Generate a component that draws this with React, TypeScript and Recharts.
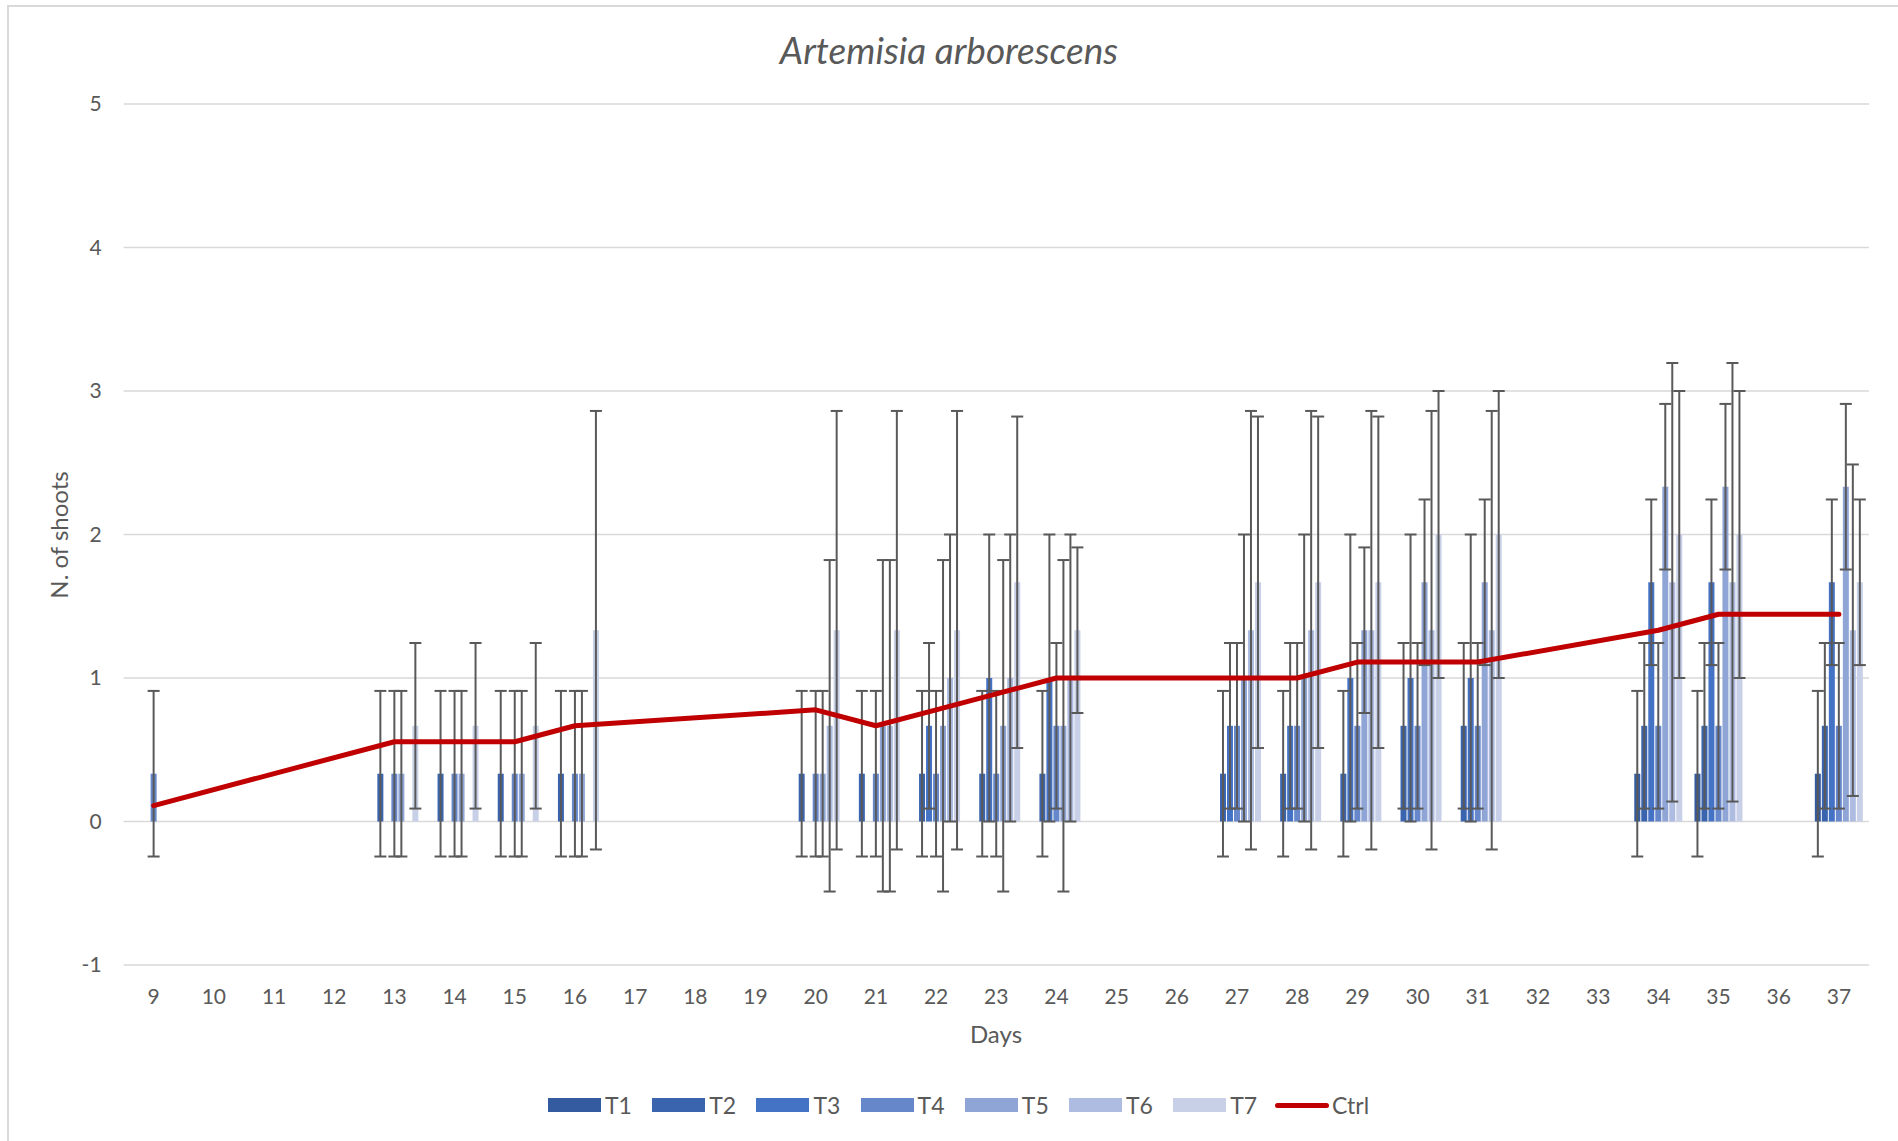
import React from 'react';
import { ComposedChart, Bar, Line, XAxis, YAxis, CartesianGrid, ErrorBar } from 'recharts';

const N = null;

const days = [9, 10, 11, 12, 13, 14, 15, 16, 17, 18, 19, 20, 21, 22, 23, 24, 25, 26, 27, 28, 29, 30, 31, 32, 33, 34, 35, 36, 37];

const yTicks = [-1, 0, 1, 2, 3, 4, 5];

const seriesNames = ['T1', 'T2', 'T3', 'T4', 'T5', 'T6', 'T7'];
const seriesColors = ['#345B9F', '#3A64AE', '#4472C4', '#6787CB', '#8FA5D5', '#AEBCE1', '#C8D0E8'];

// means (days 9..37)
const t1 = [0, N, N, N, 0, 0, 0, 0, N, N, N, 0, 0, 0, 0, 0, N, N, 0, 0, 0, 0, 0, N, N, 0.333, 0.333, N, 0.333];
const t2 = [0, N, N, N, 0.333, 0.333, 0.333, 0.333, N, N, N, 0.333, 0.333, 0.333, 0.333, 0.333, N, N, 0.333, 0.333, 0.333, 0.667, 0.667, N, N, 0.667, 0.667, N, 0.667];
const t3 = [0, N, N, N, 0, 0, 0, 0, N, N, N, 0, 0, 0.667, 1, 1, N, N, 0.667, 0.667, 1, 1, 1, N, N, 1.667, 1.667, N, 1.667];
const t4 = [0.333, N, N, N, 0.333, 0.333, 0.333, 0.333, N, N, N, 0.333, 0.333, 0.333, 0.333, 0.667, N, N, 0.667, 0.667, 0.667, 0.667, 0.667, N, N, 0.667, 0.667, N, 0.667];
const t5 = [0, N, N, N, 0.333, 0.333, 0.333, 0.333, N, N, N, 0.333, 0.667, 0.667, 0.667, 0.667, N, N, 1, 1, 1.333, 1.667, 1.667, N, N, 2.333, 2.333, N, 2.333];
const t6 = [0, N, N, N, 0, 0, 0, 0, N, N, N, 0.667, 0.667, 1, 1, 1, N, N, 1.333, 1.333, 1.333, 1.333, 1.333, N, N, 1.667, 1.667, N, 1.333];
const t7 = [0, N, N, N, 0.667, 0.667, 0.667, 1.333, N, N, N, 1.333, 1.333, 1.333, 1.667, 1.333, N, N, 1.667, 1.667, 1.667, 2, 2, N, N, 2, 2, N, 1.667];

// standard deviations (error bars)
const t1sd = [0, N, N, N, 0, 0, 0, 0, N, N, N, 0, 0, 0, 0, 0, N, N, 0, 0, 0, 0, 0, N, N, 0.577, 0.577, N, 0.577];
const t2sd = [0, N, N, N, 0.577, 0.577, 0.577, 0.577, N, N, N, 0.577, 0.577, 0.577, 0.577, 0.577, N, N, 0.577, 0.577, 0.577, 0.577, 0.577, N, N, 0.577, 0.577, N, 0.577];
const t3sd = [0, N, N, N, 0, 0, 0, 0, N, N, N, 0, 0, 0.577, 1, 1, N, N, 0.577, 0.577, 1, 1, 1, N, N, 0.577, 0.577, N, 0.577];
const t4sd = [0.577, N, N, N, 0.577, 0.577, 0.577, 0.577, N, N, N, 0.577, 0.577, 0.577, 0.577, 0.577, N, N, 0.577, 0.577, 0.577, 0.577, 0.577, N, N, 0.577, 0.577, N, 0.577];
const t5sd = [0, N, N, N, 0.577, 0.577, 0.577, 0.577, N, N, N, 0.577, 1.155, 1.155, 1.155, 1.155, N, N, 1, 1, 0.577, 0.577, 0.577, N, N, 0.577, 0.577, N, 0.577];
const t6sd = [0, N, N, N, 0, 0, 0, 0, N, N, N, 1.155, 1.155, 1, 1, 1, N, N, 1.528, 1.528, 1.528, 1.528, 1.528, N, N, 1.528, 1.528, N, 1.155];
const t7sd = [0, N, N, N, 0.577, 0.577, 0.577, 1.528, N, N, N, 1.528, 1.528, 1.528, 1.155, 0.577, N, N, 1.155, 1.155, 1.155, 1, 1, N, N, 1, 1, N, 0.577];

const ctrl = [0.111, N, N, N, 0.556, 0.556, 0.556, 0.667, N, N, N, 0.778, 0.667, 0.778, 0.889, 1, N, N, 1, 1, 1.111, 1.111, 1.111, N, N, 1.333, 1.444, N, 1.444];

const seriesValues = [t1, t2, t3, t4, t5, t6, t7];
const seriesSd = [t1sd, t2sd, t3sd, t4sd, t5sd, t6sd, t7sd];

const data = days.map((d, i) => {
  const row: Record<string, any> = { day: String(d), Ctrl: ctrl[i] };
  seriesNames.forEach((name, k) => {
    row[name] = seriesValues[k][i];
    const sd = seriesSd[k][i];
    row[name + 'e'] = sd == null ? null : [sd, sd];
  });
  return row;
});

const FONT = 'Lato, "Open Sans", sans-serif';
const TEXT = '#595959';

const Legend2 = () => (
  <div style={{ position: 'absolute', left: 0, top: 1090, width: 1898, height: 30, fontFamily: FONT, fontSize: 23, color: TEXT }}>
    {seriesNames.map((n, k) => (
      <div key={n} style={{ position: 'absolute', left: 548 + k * 104.2, top: 0, height: 30, display: 'flex', alignItems: 'center' }}>
        <div style={{ width: 53, height: 14, background: seriesColors[k] }} />
        <span style={{ marginLeft: 4 }}>{n}</span>
      </div>
    ))}
    <div style={{ position: 'absolute', left: 1275, top: 0, height: 30, display: 'flex', alignItems: 'center' }}>
      <div style={{ width: 54, height: 5, background: '#C00000', borderRadius: 2.5 }} />
      <span style={{ marginLeft: 3 }}>Ctrl</span>
    </div>
  </div>
);

export default function App() {
  return (
    <div style={{ position: 'absolute', left: 0, top: 0, width: 1898, height: 1141, background: '#fff', overflow: 'hidden' }}>
      <div style={{ position: 'absolute', left: 7, top: 5, right: -4, bottom: -4, borderLeft: '2px solid #d9d9d9', borderTop: '2px solid #d9d9d9' }} />
      <div style={{ position: 'absolute', left: 0, top: 27, width: 1898, textAlign: 'center', fontFamily: FONT, fontStyle: 'italic', fontSize: 37, color: TEXT, lineHeight: '46px' }}>
        Artemisia arborescens
      </div>
      <div style={{ position: 'absolute', left: 0, top: 0 }}>
        <ComposedChart
          width={1898}
          height={1141}
          data={data}
          margin={{ top: 104, right: 29, bottom: 116, left: 63.6 }}
          barCategoryGap="10%"
          barGap={1}
        >
          <CartesianGrid vertical={false} stroke="#d9d9d9" strokeWidth={1.5} />
          <XAxis
            dataKey="day"
            interval={0}
            axisLine={false}
            tickLine={false}
            tickMargin={18}
            height={60}
            tick={{ fill: TEXT, fontSize: 21, fontFamily: FONT }}
            label={{
              content: () => (
                <text x={996} y={1033} textAnchor="middle" dominantBaseline="central" fill={TEXT} fontSize={24} fontFamily={FONT}>
                  Days
                </text>
              ),
            }}
          />
          <YAxis
            domain={[-1, 5]}
            ticks={yTicks}
            interval={0}
            width={60}
            axisLine={false}
            tickLine={false}
            tickMargin={16}
            tick={{ fill: TEXT, fontSize: 21, fontFamily: FONT }}
            label={{
              content: () => (
                <text x={58} y={535} transform="rotate(-90 58 535)" textAnchor="middle" dominantBaseline="central" fill={TEXT} fontSize={24} fontFamily={FONT}>
                  N. of shoots
                </text>
              ),
            }}
          />
          {seriesNames.map((n, k) => (
            <Bar key={n} dataKey={n} fill={seriesColors[k]} isAnimationActive={false}>
              <ErrorBar dataKey={n + 'e'} width={6} stroke="#595959" strokeWidth={2} direction="y" />
            </Bar>
          ))}
          <Line
            type="linear"
            dataKey="Ctrl"
            stroke="#C00000"
            strokeWidth={5}
            dot={false}
            activeDot={false}
            connectNulls
            strokeLinecap="round"
            strokeLinejoin="round"
            isAnimationActive={false}
          />
        </ComposedChart>
      </div>
      <Legend2 />
    </div>
  );
}
